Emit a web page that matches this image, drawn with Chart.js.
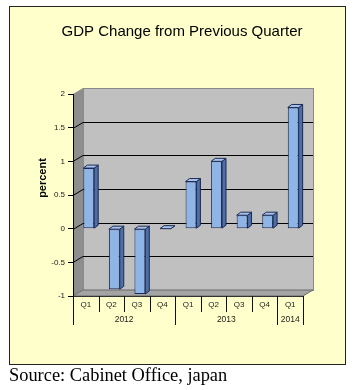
<!DOCTYPE html>
<html>
<head>
<meta charset="utf-8">
<script src="https://cdn.jsdelivr.net/npm/chart.js@4/dist/chart.umd.min.js"></script>
<style>
  html, body { margin: 0; padding: 0; background: #ffffff; width: 357px; height: 390px; overflow: hidden; }
  #box { position: absolute; left: 9px; top: 6px; width: 335px; height: 357px; background: #FFFFCC; border: 1px solid #222; }
  #chart { position: absolute; left: 0; top: 0; }
  #source { position: absolute; left: 9px; top: 365px; font-family: "Liberation Serif", "Times New Roman", serif; font-size: 18.4px; color: #000; white-space: nowrap; }
</style>
</head>
<body>
<div id="box"></div>
<canvas id="chart" width="357" height="390"></canvas>
<div id="source">Source: Cabinet Office, japan</div>
<script>
const chartTitle = 'GDP Change from Previous Quarter';
const axisTitle = 'percent';
const quarters = ['Q1', 'Q2', 'Q3', 'Q4', 'Q1', 'Q2', 'Q3', 'Q4', 'Q1'];
const years = ['2012', '2012', '2012', '2012', '2013', '2013', '2013', '2013', '2014'];
const gdpChange = [0.9, -0.9, -0.97, 0.0, 0.7, 1.0, 0.2, 0.2, 1.8];
const yMin = -1, yMax = 2, yStep = 0.5;

const DX = 10, DY = -6;       // depth of the 3D box
const BDX = 4, BDY = -3;      // depth of each bar
const BAR_SHIFT = 3;

function poly(ctx, pts) {
  ctx.beginPath();
  ctx.moveTo(pts[0], pts[1]);
  for (let i = 2; i < pts.length; i += 2) ctx.lineTo(pts[i], pts[i + 1]);
  ctx.closePath();
}

const threeD = {
  id: 'threeD',
  beforeDraw(chart) {
    const { ctx, chartArea: a, scales: { y } } = chart;
    ctx.save();
    ctx.fillStyle = '#C0C0C0';
    ctx.fillRect(a.left + DX, a.top + DY, a.right - a.left, a.bottom - a.top);
    ctx.strokeStyle = '#8a8a8a';
    ctx.lineWidth = 1;
    ctx.strokeRect(Math.round(a.left + DX) + 0.5, Math.round(a.top + DY) + 0.5, Math.round(a.right - a.left), Math.round(a.bottom - a.top));
    ctx.fillStyle = '#8E8E8E';
    poly(ctx, [a.left, a.top, a.left + DX, a.top + DY, a.left + DX, a.bottom + DY, a.left, a.bottom]);
    ctx.fill();
    ctx.fillStyle = '#A4A4A4';
    poly(ctx, [a.left, a.bottom, a.left + DX, a.bottom + DY, a.right + DX, a.bottom + DY, a.right, a.bottom]);
    ctx.fill();
    ctx.strokeStyle = '#6a6a6a';
    ctx.stroke();
    ctx.strokeStyle = '#000';
    y.ticks.forEach(t => {
      if (t.value <= yMin || t.value >= yMax) return;
      const py = Math.round(y.getPixelForValue(t.value)) + 0.5;
      ctx.beginPath();
      ctx.moveTo(a.left, py);
      ctx.lineTo(a.left + DX, py + DY);
      ctx.lineTo(a.right + DX, py + DY);
      ctx.stroke();
    });
    ctx.strokeStyle = '#333';
    ctx.beginPath();
    const by = Math.round(a.bottom) + 0.5;
    ctx.moveTo(a.left, by);
    ctx.lineTo(a.right, by);
    ctx.stroke();
    ctx.restore();
  },
  beforeDatasetsDraw(chart) {
    chart.ctx.save();
    chart.ctx.translate(BAR_SHIFT, 0);
  },
  afterDatasetsDraw(chart) {
    const ctx = chart.ctx;
    const meta = chart.getDatasetMeta(0);
    ctx.lineWidth = 1;
    ctx.strokeStyle = '#1C2B55';
    meta.data.forEach(bar => {
      const p = bar.getProps(['x', 'y', 'base', 'width'], true);
      const l = p.x - p.width / 2, r = p.x + p.width / 2;
      const t = Math.min(p.y, p.base), b = Math.max(p.y, p.base);
      ctx.fillStyle = '#4E6EA6';
      poly(ctx, [r, t, r + BDX, t + BDY, r + BDX, b + BDY, r, b]);
      ctx.fill(); ctx.stroke();
      ctx.fillStyle = '#A9C4EC';
      poly(ctx, [l, t, l + BDX, t + BDY, r + BDX, t + BDY, r, t]);
      ctx.fill(); ctx.stroke();
    });
    ctx.restore();
  },
  afterDraw(chart) {
    const { ctx, chartArea: a, scales: { x } } = chart;
    ctx.save();
    const n = quarters.length;
    const catW = x.getPixelForValue(1) - x.getPixelForValue(0);
    const x0 = x.getPixelForValue(0) - catW / 2;
    ctx.strokeStyle = '#111';
    ctx.lineWidth = 1;
    for (let i = 0; i <= n; i++) {
      const bx = Math.round(x0 + i * catW) + 0.5;
      const group = i === 0 || i === n || years[i] !== years[i - 1];
      ctx.beginPath();
      ctx.moveTo(bx, a.bottom);
      ctx.lineTo(bx, a.bottom + (group ? 29 : 16));
      ctx.stroke();
    }
    ctx.fillStyle = '#222';
    ctx.font = '8.5px "Liberation Sans", Arial, sans-serif';
    ctx.textAlign = 'center';
    ctx.textBaseline = 'middle';
    let s = 0;
    for (let i = 1; i <= n; i++) {
      if (i === n || years[i] !== years[s]) {
        const cx = (x0 + s * catW + x0 + i * catW) / 2;
        ctx.fillText(years[s], cx, a.bottom + 23.5);
        s = i;
      }
    }
    ctx.translate(43, (a.top + a.bottom) / 2 - 17);
    ctx.rotate(-Math.PI / 2);
    ctx.font = 'bold 11px "Liberation Sans", Arial, sans-serif';
    ctx.fillStyle = '#000';
    ctx.fillText(axisTitle, 0, 0);
    ctx.restore();
  }
};

new Chart(document.getElementById('chart'), {
  type: 'bar',
  data: {
    labels: quarters,
    datasets: [{
      data: gdpChange,
      yAxisID: 'y',
      backgroundColor: '#8FB4E6',
      borderColor: '#1C2B55',
      borderWidth: 1,
      borderSkipped: false,
      barPercentage: 0.5,
      categoryPercentage: 0.85
    }]
  },
  options: {
    responsive: false,
    animation: false,
    events: [],
    layout: { padding: { left: 9, right: 2, top: 0, bottom: 64 } },
    plugins: {
      legend: { display: false },
      tooltip: { enabled: false },
      title: {
        display: true,
        text: chartTitle,
        color: '#000',
        font: { family: '"Liberation Sans", Arial, sans-serif', size: 15, weight: 'normal' },
        padding: { top: 23, bottom: 53 }
      }
    },
    scales: {
      x: {
        grid: { display: false, drawTicks: false },
        border: { display: false },
        ticks: {
          color: '#222',
          padding: 4,
          maxRotation: 0,
          autoSkip: false,
          font: { family: '"Liberation Sans", Arial, sans-serif', size: 8 }
        },
        afterFit(scale) { scale.height = 30; }
      },
      y: {
        min: yMin,
        max: yMax,
        grid: { drawOnChartArea: false, drawTicks: true, tickLength: 5, color: '#000' },
        border: { display: true, color: '#000' },
        ticks: {
          stepSize: yStep,
          color: '#222',
          padding: 3,
          font: { family: '"Liberation Sans", Arial, sans-serif', size: 8 },
          callback: v => String(v)
        },
        afterFit(scale) { scale.width = 64; }
      },
      yRightSpace: {
        position: 'right',
        min: yMin,
        max: yMax,
        grid: { display: false, drawTicks: false },
        border: { display: false },
        ticks: { display: false },
        afterFit(scale) { scale.width = 52; }
      }
    }
  },
  plugins: [threeD]
});
</script>
</body>
</html>
